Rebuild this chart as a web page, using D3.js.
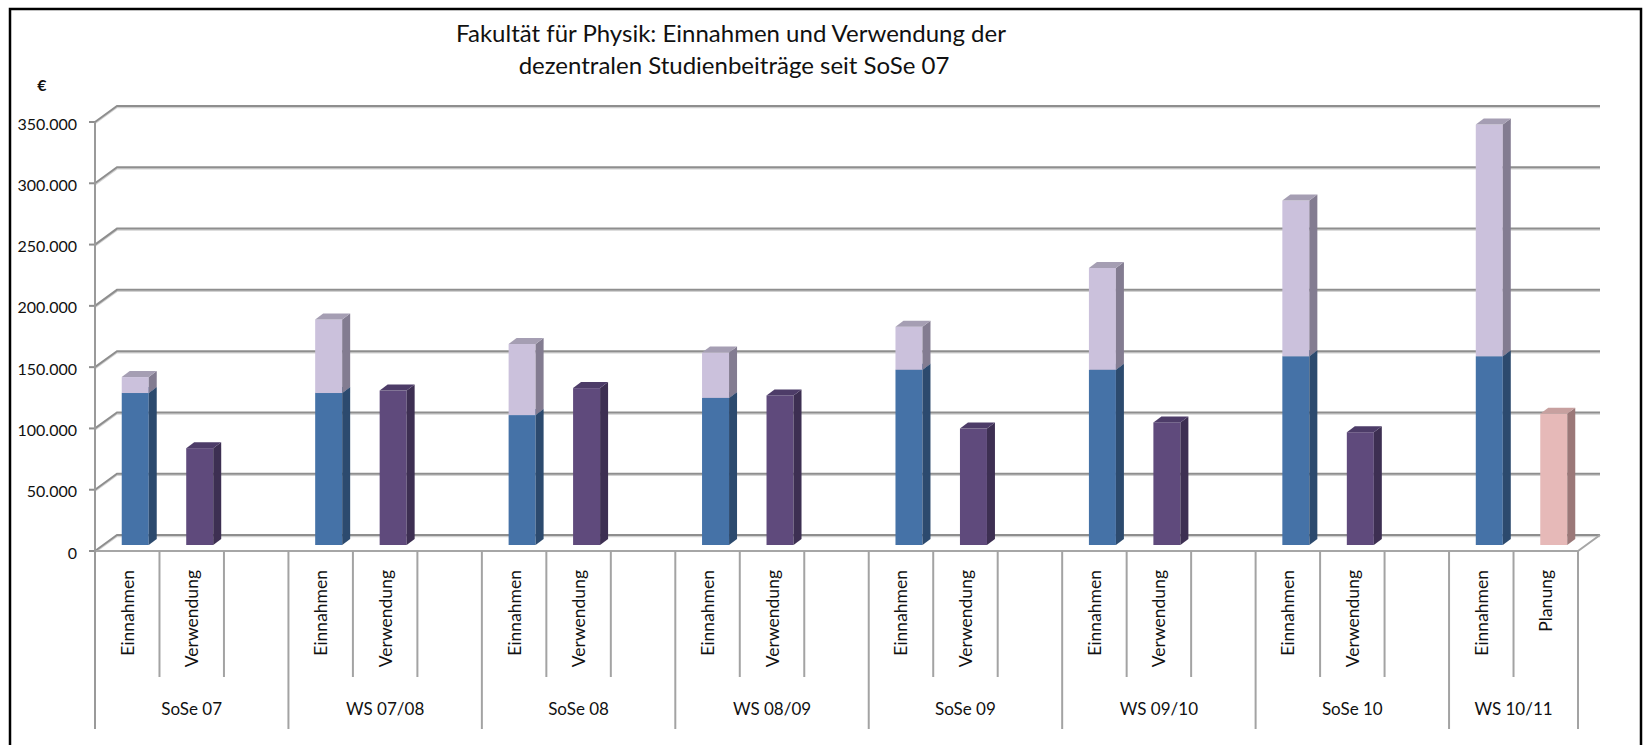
<!DOCTYPE html>
<head>
    <meta charset="utf-8">
    <style>
        body { margin: 0; background: #ffffff; }
        text { font-family: Lato, "Open Sans", sans-serif; fill: #111111; }
    </style>
    <script src="https://d3js.org/d3.v7.min.js"></script>
</head>
<body>
<div id="chart"></div>
<script>

    // values
    var semester   = ["SoSe 07", "WS 07/08", "SoSe 08", "WS 08/09", "SoSe 09", "WS 09/10", "SoSe 10", "WS 10/11"];
    var einnahmen  = [124000, 124000, 106000, 120000, 143000, 143000, 154000, 154000];
    var uebertrag  = [13000, 60000, 58000, 37000, 35000, 83000, 127000, 189000];
    var verwendung = [79000, 126000, 128000, 122000, 95000, 100000, 92000, null];
    var planung    = [null, null, null, null, null, null, null, 107000];
    var yTicks     = [0, 50000, 100000, 150000, 200000, 250000, 300000, 350000];

    var W = 1645, H = 745;

    var left = 95, right = 1578, floorY = 551, topY = 122;
    var depth = {dx: 22, dy: -16};   // front to back of the floor
    var barOff = {dx: 8, dy: -6};    // plane the bars stand in
    var barW = 27, barD = {dx: 8, dy: -6};

    var colors = {
        blue:   {front: "#4572a7", side: "#2c4a6e", top: "#3a5f8c"},
        light:  {front: "#cbc1dc", side: "#837c91", top: "#a59eb3"},
        purple: {front: "#5f4a7c", side: "#3d2f52", top: "#4d3c68"},
        pink:   {front: "#e6b9b8", side: "#9b7878", top: "#c7a09f"}
    };

    var fmt = d3.formatLocale({decimal: ",", thousands: ".", grouping: [3], currency: ["", "€"]}).format(",d");

    // slots: three per semester, two in the last one
    var slots = [];
    semester.forEach(function(s, i) {
        var last = i == semester.length - 1;
        slots.push({id: i + "-0", group: i, label: "Einnahmen",
            segs: [{v0: 0, v1: einnahmen[i], c: colors.blue},
                   {v0: einnahmen[i], v1: einnahmen[i] + uebertrag[i], c: colors.light}]});
        if (last) {
            slots.push({id: i + "-1", group: i, label: "Planung",
                segs: [{v0: 0, v1: planung[i], c: colors.pink}]});
        } else {
            slots.push({id: i + "-1", group: i, label: "Verwendung",
                segs: [{v0: 0, v1: verwendung[i], c: colors.purple}]});
            slots.push({id: i + "-2", group: i, label: "", segs: []});
        }
    });

    var svg = d3.select("#chart").append("svg")
        .attr("width", W)
        .attr("height", H);

    var x = d3.scaleBand()
        .domain(slots.map(d => d.id))
        .range([left, right])
        .padding(0);

    var y = d3.scaleLinear()
        .domain([0, 350000])
        .range([floorY, topY]);

    // frame
    svg.append("rect")
        .attr("x", 10).attr("y", 9)
        .attr("width", 1631).attr("height", 800)
        .attr("fill", "none")
        .attr("stroke", "#000")
        .attr("stroke-width", 2.5);

    // title
    var title = svg.append("text")
        .attr("text-anchor", "middle")
        .style("font-size", "24px");
    title.append("tspan").attr("x", 731).attr("y", 42).text("Fakultät für Physik: Einnahmen und Verwendung der");
    title.append("tspan").attr("x", 734).attr("y", 74).text("dezentralen Studienbeiträge seit SoSe 07");

    svg.append("text")
        .attr("x", 42).attr("y", 91)
        .attr("text-anchor", "middle")
        .style("font-size", "16px")
        .style("font-weight", "bold")
        .text("€");

    // back wall grid
    var grid = svg.append("g");
    yTicks.forEach(function(t) {
        var yf = y(t), yb = y(t) + depth.dy;
        var p = "M" + left + "," + yf + "L" + (left + depth.dx) + "," + yb + "L" + (right + depth.dx) + "," + yb;
        grid.append("path").attr("d", p)
            .attr("transform", "translate(0,1.5)")
            .attr("fill", "none").attr("stroke", "#d2d2d2").attr("stroke-width", 1.5);
        grid.append("path").attr("d", p)
            .attr("fill", "none").attr("stroke", "#8e8e8e").attr("stroke-width", 2);
        grid.append("line")
            .attr("x1", left - 6).attr("x2", left)
            .attr("y1", yf).attr("y2", yf)
            .attr("stroke", "#8e8e8e").attr("stroke-width", 2);
    });

    // floor edges
    grid.append("path")
        .attr("d", "M" + left + "," + floorY + "L" + right + "," + floorY + "L" + (right + depth.dx) + "," + (floorY + depth.dy))
        .attr("fill", "none").attr("stroke", "#a6a6a6").attr("stroke-width", 2);

    // value axis labels
    svg.append("g").selectAll("text")
        .data(yTicks)
        .enter()
        .append("text")
        .attr("x", 77)
        .attr("y", d => y(d) + 1)
        .attr("text-anchor", "end")
        .attr("dominant-baseline", "central")
        .style("font-size", "16px")
        .text(d => fmt(d));

    // category axis lines
    var cat = svg.append("g");
    var bw = x.bandwidth();
    cat.append("line")
        .attr("x1", left).attr("x2", left)
        .attr("y1", y(350000)).attr("y2", 729)
        .attr("stroke", "#9a9a9a").attr("stroke-width", 2);
    slots.forEach(function(s, i) {
        var xe = x(s.id) + bw;
        var next = slots[i + 1];
        var groupEnd = !next || next.group != s.group;
        cat.append("line")
            .attr("x1", xe).attr("x2", xe)
            .attr("y1", floorY).attr("y2", groupEnd ? 729 : 677)
            .attr("stroke", "#a3a3a3").attr("stroke-width", 2);
    });

    cat.selectAll(".slotLabel")
        .data(slots.filter(d => d.label))
        .enter()
        .append("text")
        .attr("class", "slotLabel")
        .attr("transform", d => "translate(" + (x(d.id) + bw / 2) + ",570) rotate(-90)")
        .attr("text-anchor", "end")
        .attr("dominant-baseline", "central")
        .style("font-size", "17.5px")
        .text(d => d.label);

    cat.selectAll(".groupLabel")
        .data(semester)
        .enter()
        .append("text")
        .attr("class", "groupLabel")
        .attr("x", function(d, i) {
            var g = slots.filter(s => s.group == i);
            return (x(g[0].id) + x(g[g.length - 1].id) + bw) / 2;
        })
        .attr("y", 708)
        .attr("text-anchor", "middle")
        .attr("dominant-baseline", "central")
        .style("font-size", "17px")
        .text(d => d);

    // 3d bars
    var bars = svg.append("g");
    slots.forEach(function(s) {
        var x0 = x(s.id) + bw / 2 - barW / 2 + barOff.dx;
        s.segs.forEach(function(seg) {
            if (seg.v1 == null || seg.v1 <= seg.v0) return;
            var yb = y(seg.v0) + barOff.dy, yt = y(seg.v1) + barOff.dy;
            var g = bars.append("g");
            g.append("rect")
                .attr("x", x0).attr("y", yt)
                .attr("width", barW).attr("height", yb - yt)
                .attr("fill", seg.c.front);
            g.append("path")
                .attr("d", "M" + (x0 + barW) + "," + yb +
                           "L" + (x0 + barW + barD.dx) + "," + (yb + barD.dy) +
                           "L" + (x0 + barW + barD.dx) + "," + (yt + barD.dy) +
                           "L" + (x0 + barW) + "," + yt + "Z")
                .attr("fill", seg.c.side);
            g.append("path")
                .attr("d", "M" + x0 + "," + yt +
                           "L" + (x0 + barD.dx) + "," + (yt + barD.dy) +
                           "L" + (x0 + barW + barD.dx) + "," + (yt + barD.dy) +
                           "L" + (x0 + barW) + "," + yt + "Z")
                .attr("fill", seg.c.top);
        });
    });

</script>
</body>
